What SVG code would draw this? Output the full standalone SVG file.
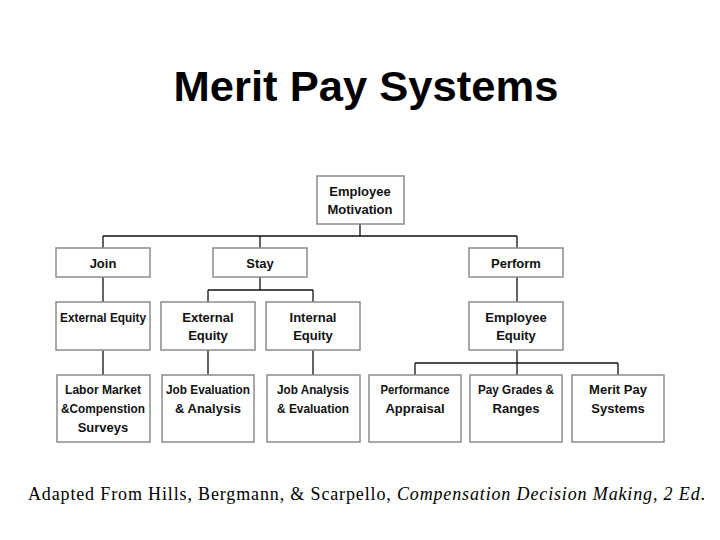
<svg xmlns="http://www.w3.org/2000/svg" width="720" height="540" viewBox="0 0 720 540">
<style>
.b{fill:#fff;stroke:#8c8c8c;stroke-width:1.5}
.t{font-family:"Liberation Sans",Arial,sans-serif;font-size:13px;font-weight:bold;fill:#111;text-anchor:middle}
.c{fill:none;stroke:#111;stroke-width:1.3}
</style>
<rect width="720" height="540" fill="#fff"/>
<text x="366" y="101" font-family="Liberation Sans,Arial,sans-serif" font-size="43" font-weight="bold" text-anchor="middle" textLength="385" lengthAdjust="spacingAndGlyphs" fill="#000">Merit Pay Systems</text>
<g id="connectors">
<path class="c" d="M360 224V236M103 236H517M103 236V248M260 236V248M517 236V248"/>
<path class="c" d="M103 277V302M260 277V290M208 290H313M208 290V302M313 290V302"/>
<path class="c" d="M517 277V302M103 350V375M208 350V375M313 350V375"/>
<path class="c" d="M517 350V375M415 363H618M415 363V375M618 363V375"/>
</g>
<g id="n1"><rect class="b" x="317" y="176" width="87" height="48"/><text class="t" x="360" y="196">Employee</text><text class="t" x="360" y="214">Motivation</text></g>
<g id="n2"><rect class="b" x="56" y="248" width="94" height="29"/><text class="t" x="103" y="268">Join</text></g>
<g id="n3"><rect class="b" x="213" y="248" width="94" height="29"/><text class="t" x="260" y="268">Stay</text></g>
<g id="n4"><rect class="b" x="469" y="248" width="94" height="29"/><text class="t" x="516" y="268">Perform</text></g>
<g id="n5"><rect class="b" x="56" y="302" width="94" height="48"/><text class="t" x="103" y="322" textLength="86" lengthAdjust="spacingAndGlyphs">External Equity</text></g>
<g id="n6"><rect class="b" x="161" y="302" width="94" height="48"/><text class="t" x="208" y="322">External</text><text class="t" x="208" y="340">Equity</text></g>
<g id="n7"><rect class="b" x="266" y="302" width="94" height="48"/><text class="t" x="313" y="322">Internal</text><text class="t" x="313" y="340">Equity</text></g>
<g id="n8"><rect class="b" x="469" y="302" width="94" height="48"/><text class="t" x="516" y="322">Employee</text><text class="t" x="516" y="340">Equity</text></g>
<g id="n9"><rect class="b" x="57" y="375" width="93" height="67"/><text class="t" x="103" y="394" textLength="76" lengthAdjust="spacingAndGlyphs">Labor Market</text><text class="t" x="103" y="413" textLength="84" lengthAdjust="spacingAndGlyphs">&amp;Compenstion</text><text class="t" x="103" y="432">Surveys</text></g>
<g id="n10"><rect class="b" x="162" y="375" width="92" height="67"/><text class="t" x="208" y="394" textLength="84" lengthAdjust="spacingAndGlyphs">Job Evaluation</text><text class="t" x="208" y="413">&amp; Analysis</text></g>
<g id="n11"><rect class="b" x="267" y="375" width="93" height="67"/><text class="t" x="313" y="394" textLength="72" lengthAdjust="spacingAndGlyphs">Job Analysis</text><text class="t" x="313" y="413" textLength="72" lengthAdjust="spacingAndGlyphs">&amp; Evaluation</text></g>
<g id="n12"><rect class="b" x="369" y="375" width="92" height="67"/><text class="t" x="415" y="394" textLength="69" lengthAdjust="spacingAndGlyphs">Performance</text><text class="t" x="415" y="413">Appraisal</text></g>
<g id="n13"><rect class="b" x="470" y="375" width="92" height="67"/><text class="t" x="516" y="394" textLength="76" lengthAdjust="spacingAndGlyphs">Pay Grades &amp;</text><text class="t" x="516" y="413">Ranges</text></g>
<g id="n14"><rect class="b" x="572" y="375" width="92" height="67"/><text class="t" x="618" y="394">Merit Pay</text><text class="t" x="618" y="413">Systems</text></g>
<text x="28" y="500" font-family="Liberation Serif,Times New Roman,serif" font-size="18" fill="#000" textLength="677">Adapted From Hills, Bergmann, &amp; Scarpello, <tspan font-style="italic">Compensation Decision Making, 2 Ed</tspan>.</text>
</svg>
